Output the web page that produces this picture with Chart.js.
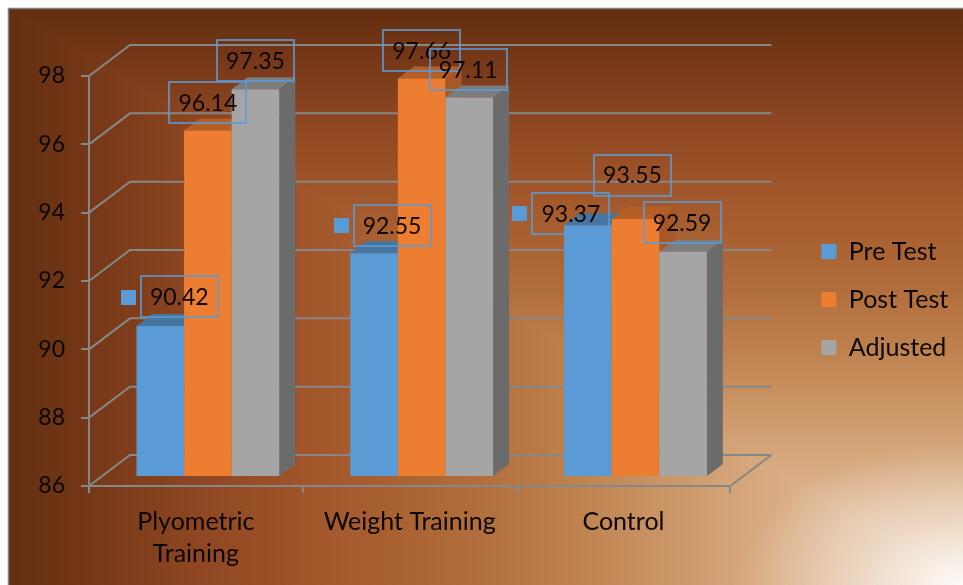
<!DOCTYPE html>
<html>
<head>
<meta charset="utf-8">
<title>Training groups</title>
<script src="https://cdn.jsdelivr.net/npm/chart.js@4/dist/chart.umd.min.js"></script>
<style>
  html, body { margin: 0; padding: 0; background: #fff; overflow: hidden; }
  canvas { display: block; }
</style>
</head>
<body>
<canvas id="chart3d" width="963" height="585"></canvas>
<script>
const categories = [["Plyometric", "Training"], "Weight Training", "Control"];
const preTest  = [90.42, 92.55, 93.37];
const postTest = [96.14, 97.66, 93.55];
const adjusted = [97.35, 97.11, 92.59];

const fontName = "Lato, Carlito, sans-serif";
const inkColor = "#0a0705";
const wallColor = "#878787";
const labelBorder = "#5b9bd5";

// bars stand a little inside the floor, walls are pushed further back
const barShift = { x: 12, y: -9 };
const barDepth = { x: 16, y: -12 };
const wallDepth = { x: 41, y: -31 };

// [dx, dy] of each value box from the top centre of its bar, by series then category
const boxNudge = [
    [[19, -29], [18, -28], [-17, -12]],
    [[0, -28], [0, -28], [-3, -44]],
    [[0, -29], [-1, -28], [-1, -29]]
];

const faceColors = [
    { top: "#4675a0", side: "#3f6b93" },
    { top: "#b55f27", side: "#a85826" },
    { top: "#7c7c7c", side: "#6b6b6b" }
];

// rectangular gradient that fades out of the lower right corner
const backdrop = {
    id: "backdrop",
    beforeDraw(chart) {
        const ctx = chart.ctx;
        const x0 = 9, y0 = 9, x1 = chart.width, y1 = chart.height;
        const stops = [[0, "#e6c6a6"], [0.12, "#dfb996"], [0.24, "#d4a478"], [0.4, "#bf8350"], [0.52, "#b06c3a"], [0.67, "#a3582b"], [0.8, "#8f4722"], [0.92, "#743717"], [1, "#632f10"]];
        const ramp = (xa, ya, xb, yb) => {
            const grad = ctx.createLinearGradient(xa, ya, xb, yb);
            stops.forEach(s => grad.addColorStop(s[0], s[1]));
            return grad;
        };
        ctx.save();
        ctx.fillStyle = ramp(0, y1, 0, y0);
        ctx.fillRect(x0, y0, x1 - x0, y1 - y0);
        ctx.fillStyle = ramp(x1, 0, x0, 0);
        ctx.beginPath();
        ctx.moveTo(x0, y0);
        ctx.lineTo(x0, y1);
        ctx.lineTo(x1, y1);
        ctx.closePath();
        ctx.fill();

        // white glow in the corner
        ctx.translate(x1, y1);
        ctx.scale(1, 0.62);
        const glow = ctx.createRadialGradient(0, 0, 0, 0, 0, 230);
        glow.addColorStop(0, "rgba(255,255,255,0.92)");
        glow.addColorStop(0.45, "rgba(255,255,255,0.42)");
        glow.addColorStop(1, "rgba(255,255,255,0)");
        ctx.fillStyle = glow;
        ctx.fillRect(-240, -380, 240, 380);
        ctx.restore();

        ctx.save();
        ctx.strokeStyle = "#808080";
        ctx.lineWidth = 1.5;
        ctx.beginPath();
        ctx.moveTo(x0 - 0.5, y1);
        ctx.lineTo(x0 - 0.5, y0 - 0.5);
        ctx.lineTo(x1, y0 - 0.5);
        ctx.stroke();
        ctx.restore();
    }
};

// back wall lines and floor edge, taken from the value scale
const walls = {
    id: "walls",
    beforeDatasetsDraw(chart) {
        const ctx = chart.ctx;
        const area = chart.chartArea;
        ctx.save();
        ctx.strokeStyle = wallColor;
        ctx.lineWidth = 2;
        ctx.beginPath();
        chart.scales.y.ticks.forEach(t => {
            const y = chart.scales.y.getPixelForValue(t.value);
            ctx.moveTo(area.left, y);
            ctx.lineTo(area.left + wallDepth.x, y + wallDepth.y);
            ctx.lineTo(area.right + wallDepth.x, y + wallDepth.y);
        });
        ctx.moveTo(area.right, area.bottom);
        ctx.lineTo(area.right + wallDepth.x, area.bottom + wallDepth.y);
        ctx.stroke();
        ctx.restore();
    }
};

// series are painted left to right so a column hides its neighbour's side face,
// the library paints the fronts and the faces behind them are added here
const columns = {
    id: "columns",
    beforeDatasetsDraw(chart) {
        const ctx = chart.ctx;
        ctx.save();
        ctx.translate(barShift.x, barShift.y);
        chart.data.datasets.forEach((ds, i) => {
            const meta = chart.getDatasetMeta(i);
            const face = faceColors[i];
            meta.data.forEach(bar => {
                const left = bar.x - bar.width / 2, right = bar.x + bar.width / 2;
                ctx.fillStyle = face.side;
                ctx.beginPath();
                ctx.moveTo(right, bar.y);
                ctx.lineTo(right + barDepth.x, bar.y + barDepth.y);
                ctx.lineTo(right + barDepth.x, bar.base + barDepth.y);
                ctx.lineTo(right, bar.base);
                ctx.closePath();
                ctx.fill();
                ctx.fillStyle = face.top;
                ctx.beginPath();
                ctx.moveTo(left, bar.y);
                ctx.lineTo(left + barDepth.x, bar.y + barDepth.y);
                ctx.lineTo(right + barDepth.x, bar.y + barDepth.y);
                ctx.lineTo(right, bar.y);
                ctx.closePath();
                ctx.fill();
            });
            meta.controller.draw();
        });
        ctx.restore();
        return false;
    }
};

// boxed value labels, Pre Test ones carry their legend key
const valueBoxes = {
    id: "valueBoxes",
    afterDraw(chart) {
        const ctx = chart.ctx;
        const boxW = 77, boxH = 41;
        ctx.save();
        ctx.font = "23px " + fontName;
        ctx.textAlign = "center";
        ctx.textBaseline = "middle";
        chart.data.datasets.forEach((ds, i) => {
            chart.getDatasetMeta(i).data.forEach((bar, j) => {
                const cx = bar.x + barShift.x + boxNudge[i][j][0];
                const cy = bar.y + barShift.y + boxNudge[i][j][1];
                ctx.strokeStyle = labelBorder;
                ctx.lineWidth = 1.6;
                ctx.strokeRect(Math.round(cx - boxW / 2), Math.round(cy - boxH / 2), boxW, boxH);
                if (i === 0) {
                    ctx.fillStyle = ds.backgroundColor;
                    ctx.fillRect(Math.round(cx - boxW / 2) - 20, Math.round(cy) - 7, 15, 15);
                }
                ctx.fillStyle = inkColor;
                ctx.fillText(ds.data[j].toFixed(2), cx, cy + 1);
            });
        });
        ctx.restore();
    }
};

new Chart(document.getElementById("chart3d").getContext("2d"), {
    type: "bar",
    data: {
        labels: categories,
        datasets: [
            { label: "Pre Test", data: preTest, backgroundColor: "#5b9bd5", base: 86 },
            { label: "Post Test", data: postTest, backgroundColor: "#ed7d31", base: 86 },
            { label: "Adjusted", data: adjusted, backgroundColor: "#a5a5a5", base: 86 }
        ]
    },
    options: {
        responsive: false,
        animation: false,
        categoryPercentage: 0.668,
        barPercentage: 1,
        layout: { padding: { top: 14, right: 5, bottom: 0, left: 0 } },
        plugins: {
            tooltip: { enabled: false },
            legend: {
                position: "right",
                labels: {
                    boxWidth: 15,
                    boxHeight: 15,
                    padding: 23,
                    color: inkColor,
                    font: { family: fontName, size: 25 }
                }
            }
        },
        scales: {
            x: {
                afterFit: s => { s.height = 99; },
                border: { color: wallColor, width: 2 },
                grid: { drawOnChartArea: false, color: wallColor, lineWidth: 2, tickLength: 7 },
                ticks: {
                    color: inkColor,
                    padding: 13,
                    maxRotation: 0,
                    font: { family: fontName, size: 25, lineHeight: 1.28 }
                }
            },
            y: {
                min: 86,
                max: 98,
                afterFit: s => { s.width = 89; },
                border: { color: wallColor, width: 2 },
                grid: { drawOnChartArea: false, color: wallColor, lineWidth: 2, tickLength: 8 },
                ticks: {
                    stepSize: 2,
                    color: inkColor,
                    padding: 16,
                    font: { family: fontName, size: 23 }
                }
            },
            // empty axes that hold the legend and the top edge away from the plot
            gap: {
                type: "linear",
                position: "right",
                afterFit: s => { s.width = 68; },
                border: { display: false },
                grid: { display: false },
                ticks: { display: false }
            },
            roof: {
                type: "category",
                position: "top",
                afterFit: s => { s.height = 62; },
                border: { display: false },
                grid: { display: false },
                ticks: { display: false }
            }
        }
    },
    plugins: [backdrop, walls, columns, valueBoxes]
});
</script>
</body>
</html>
